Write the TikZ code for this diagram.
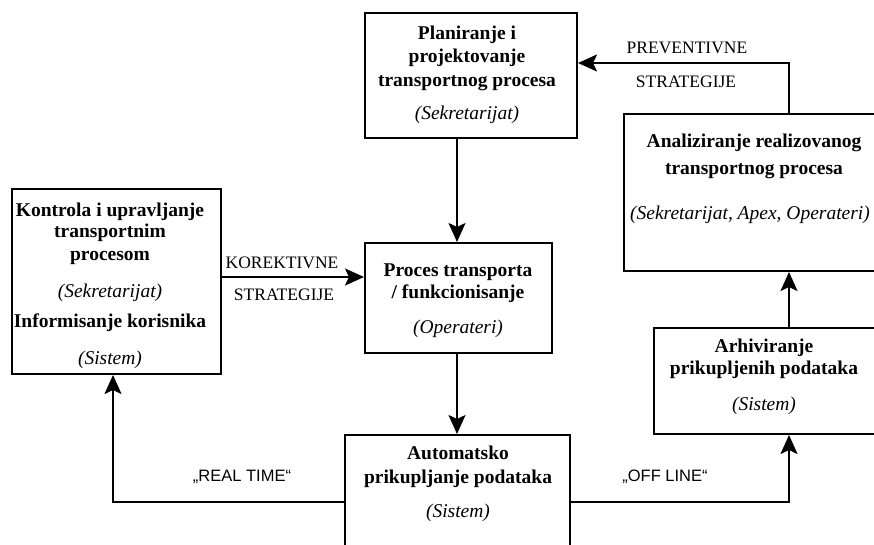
\documentclass[tikz,border=0pt]{standalone}
\usepackage{fontspec}
\setmainfont{Liberation Serif}
\newfontfamily\labelsans{Liberation Sans}
\usetikzlibrary{arrows.meta}
\begin{document}
\begin{tikzpicture}[x=1pt,y=-1pt,
  box/.style={draw, line width=2pt, rectangle, inner sep=0pt},
  conn/.style={line width=2pt},
  arr/.style={conn, -{Stealth[length=19pt,width=17pt,inset=4pt]}},
  ttl/.style={font=\fontsize{19.5}{22}\selectfont\bfseries, inner sep=0pt,
              text height=13.5pt, text depth=4.5pt},
  who/.style={font=\fontsize{19.5}{22}\selectfont\itshape, inner sep=0pt,
              text height=13.5pt, text depth=4.5pt},
  strat/.style={font=\fontsize{17.5}{20}\selectfont, inner sep=0pt},
  mode/.style={font=\labelsans\fontsize{16.5}{20}\selectfont, inner sep=0pt}]
\useasboundingbox (0,0) rectangle (874,544);
\clip (0,0) rectangle (874,544);

% process boxes
\node[box, minimum width=212pt, minimum height=125pt] (plan)     at (471,75.5)  {};
\node[box, minimum width=276pt, minimum height=157pt] (anal)     at (762,192.5) {};
\node[box, minimum width=209pt, minimum height=185pt] (kontrola) at (116.5,281.5) {};
\node[box, minimum width=187pt, minimum height=110pt] (proces)   at (458.5,298) {};
\node[box, minimum width=246pt, minimum height=106pt] (arh)      at (777,381)   {};
\node[box, minimum width=225pt, minimum height=135pt] (auto)     at (457.5,502.5) {};

% box texts
\node[ttl] (plan1) at (467,35)  {Planiranje i};
\node[ttl] (plan2) at (467,58)  {projektovanje};
\node[ttl] (plan3) at (467,82)  {transportnog procesa};
\node[who] (plan4) at (467,115) {(Sekretarijat)};

\node[ttl] (anal1) at (754,143) {Analiziranje realizovanog};
\node[ttl] (anal2) at (754,170) {transportnog procesa};
\node[who] (anal3) at (750,215) {(Sekretarijat, Apex, Operateri)};

\node[ttl] (kon1) at (110,212) {Kontrola i upravljanje};
\node[ttl] (kon2) at (110,233) {transportnim};
\node[ttl] (kon3) at (110,256) {procesom};
\node[who] (kon4) at (110,293) {(Sekretarijat)};
\node[ttl] (kon5) at (110,323) {Informisanje korisnika};
\node[who] (kon6) at (110,360) {(Sistem)};

\node[ttl] (pro1) at (458,272) {Proces transporta};
\node[ttl] (pro2) at (458,294) {/ funkcionisanje};
\node[who] (pro3) at (458,329) {(Operateri)};

\node[ttl] (arh1) at (764,348) {Arhiviranje};
\node[ttl] (arh2) at (764,370) {prikupljenih podataka};
\node[who] (arh3) at (764,406) {(Sistem)};

\node[ttl] (aut1) at (458,455) {Automatsko};
\node[ttl] (aut2) at (458,479) {prikupljanje podataka};
\node[who] (aut3) at (458,513) {(Sistem)};

% routing guides
\coordinate (xa) at (457,0);
\coordinate (xl) at (113,0);
\coordinate (xr) at (789,0);
\coordinate (yk) at (0,277);
\coordinate (yb) at (0,502);
\coordinate (yt) at (0,63);

% connectors
\draw[arr] (xa |- plan.south) -- (xa |- proces.north);
\draw[arr] (xa |- proces.south) -- (xa |- auto.north);
\draw[arr] (kontrola.east |- yk) -- (proces.west |- yk);
\draw[arr] (auto.west |- yb) -| (xl |- kontrola.south);
\draw[arr] (auto.east |- yb) -| (xr |- arh.south);
\draw[arr] (xr |- arh.north) -- (xr |- anal.south);
\draw[arr] (xr |- anal.north) |- (plan.east |- yt);

% connector labels
\node[strat] (prev1) at (687,48) {PREVENTIVNE};
\node[strat] (prev2) at (686,82) {STRATEGIJE};
\node[strat] (kor1)  at (282,263) {KOREKTIVNE};
\node[strat] (kor2)  at (284,295) {STRATEGIJE};
\node[mode]  (rt)    at (242,477) {„REAL TIME“};
\node[mode]  (ol)    at (665,477) {„OFF LINE“};
\end{tikzpicture}
\end{document}
